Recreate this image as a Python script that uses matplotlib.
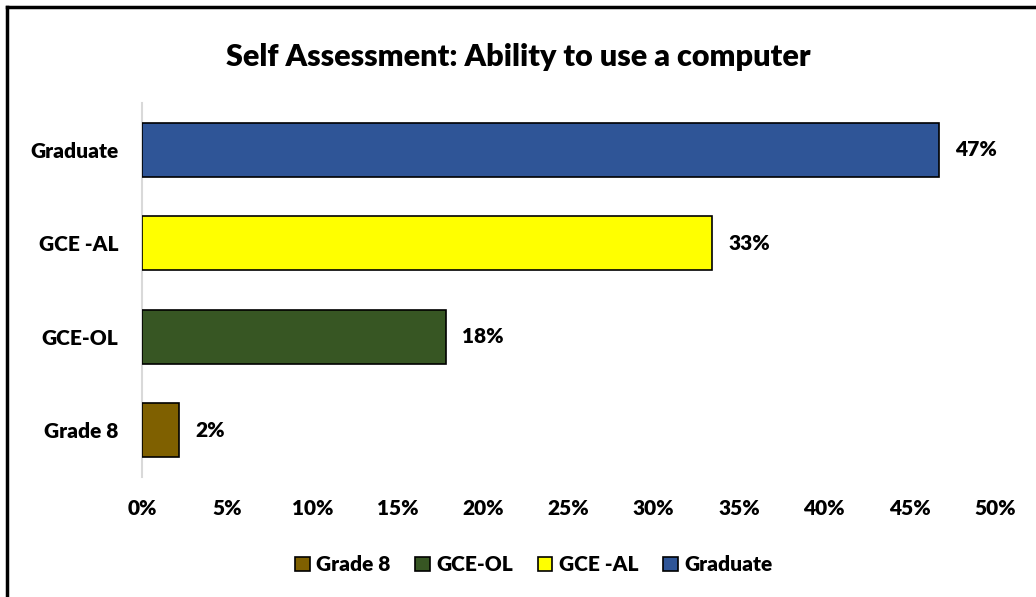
import matplotlib.pyplot as plt
from matplotlib.patches import Patch
from matplotlib.lines import Line2D

plt.rcParams['font.family'] = ['Lato', 'DejaVu Sans']
plt.rcParams['font.weight'] = 'heavy'

categories = ["Grade 8", "GCE-OL", "GCE -AL", "Graduate"]
values = [2.2, 17.8, 33.4, 46.7]
colors = ["#7F6000", "#375623", "#FFFF00", "#2F5597"]
xticks = [0, 5, 10, 15, 20, 25, 30, 35, 40, 45, 50]

fs = 15

fig = plt.figure(figsize=(10.36, 5.97), dpi=100)
ax = fig.add_axes([0.137, 0.201, 0.8234, 0.6265])

ypos = range(len(categories))
ax.barh(ypos, values, height=0.58, color=colors, edgecolor="black", linewidth=1.2, zorder=3)

for y, v in zip(ypos, values):
    ax.text(v + 0.95, y, f"{v:.0f}%", va="center", ha="left", fontsize=fs, fontweight="heavy")

ax.set_xlim(0, 50)
ax.set_ylim(-0.5, 3.5)
ax.set_yticks(list(ypos))
ax.set_yticklabels(categories, fontsize=fs, fontweight="heavy")
ax.set_xticks(xticks)
ax.set_xticklabels([f"{t}%" for t in xticks], fontsize=fs, fontweight="heavy")
ax.tick_params(axis="both", length=0)
ax.tick_params(axis="y", pad=17)
ax.tick_params(axis="x", pad=16)

for side in ["top", "right", "bottom"]:
    ax.spines[side].set_visible(False)
ax.spines["left"].set_color("#D9D9D9")
ax.spines["left"].set_linewidth(1.5)

fig.text(0.5, 0.905, "Self Assessment: Ability to use a computer", ha="center", va="center",
         fontsize=22, fontweight="heavy")

handles = [Patch(facecolor=c, edgecolor="black", linewidth=1.2) for c in colors]
fig.legend(handles, categories, loc="center", bbox_to_anchor=(0.515, 0.054), ncol=4,
           frameon=False, fontsize=fs, handlelength=0.7, handleheight=0.7,
           handletextpad=0.3, columnspacing=1.2)

# outer frame: only the left and top edges show
fig.add_artist(Line2D([0.0072, 0.0072], [0, 0.988], color="black", linewidth=2.5, transform=fig.transFigure))
fig.add_artist(Line2D([0.0072, 1], [0.988, 0.988], color="black", linewidth=2.5, transform=fig.transFigure))

fig.savefig("out.png", dpi=100)
